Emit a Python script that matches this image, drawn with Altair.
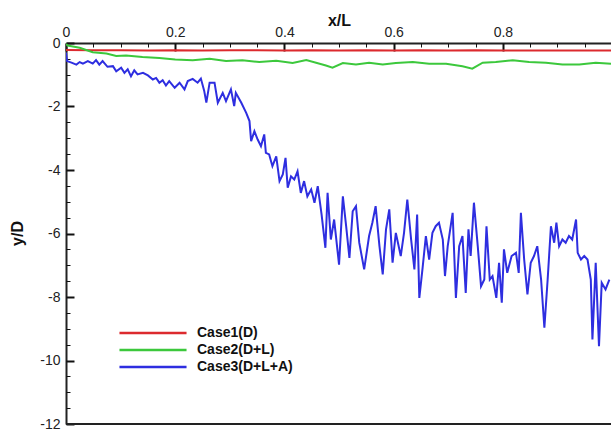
import altair as alt
import pandas as pd

# ---------------- data ----------------
names = ["Case1(D)", "Case2(D+L)", "Case3(D+L+A)"]
colors = ["#dc2a2e", "#3cc83c", "#2e2ee0"]

case1_x = [0.0, 0.05, 0.1, 0.15, 0.2, 0.25, 0.3, 0.35, 0.4, 0.45, 0.5, 0.55, 0.6,
           0.65, 0.7, 0.75, 0.8, 0.85, 0.9, 0.95, 0.998]
case1_y = [-0.22, -0.23, -0.23, -0.24, -0.23, -0.24, -0.23, -0.23, -0.24, -0.23, -0.24,
           -0.23, -0.24, -0.23, -0.24, -0.23, -0.24, -0.24, -0.24, -0.24, -0.24]

case2_x = [0.0, 0.003, 0.025, 0.049, 0.074, 0.092, 0.11, 0.14, 0.171, 0.2, 0.232, 0.263,
           0.293, 0.323, 0.354, 0.385, 0.415, 0.44, 0.476, 0.488, 0.507, 0.531, 0.555,
           0.58, 0.604, 0.635, 0.665, 0.696, 0.726, 0.744, 0.763, 0.787, 0.818, 0.848,
           0.879, 0.909, 0.94, 0.97, 0.998]
case2_y = [-0.03, -0.08, -0.15, -0.29, -0.33, -0.41, -0.39, -0.44, -0.47, -0.52, -0.54,
           -0.50, -0.57, -0.54, -0.60, -0.56, -0.63, -0.54, -0.71, -0.78, -0.63, -0.68,
           -0.62, -0.68, -0.63, -0.60, -0.65, -0.65, -0.73, -0.81, -0.62, -0.60, -0.54,
           -0.60, -0.62, -0.68, -0.68, -0.62, -0.65]

case3_x = [0.0, 0.002, 0.01, 0.019, 0.025, 0.031, 0.04, 0.049, 0.055, 0.061, 0.067, 0.076,
           0.086, 0.092, 0.101, 0.107, 0.113, 0.119, 0.125, 0.131, 0.141, 0.15, 0.159,
           0.165, 0.171, 0.177, 0.183, 0.189, 0.199, 0.208, 0.217, 0.223, 0.232, 0.241,
           0.247, 0.253, 0.257, 0.263, 0.272, 0.278, 0.287, 0.293, 0.302, 0.308, 0.311,
           0.321, 0.33, 0.336, 0.339, 0.345, 0.351, 0.357, 0.363, 0.366, 0.372, 0.378,
           0.385, 0.391, 0.397, 0.402, 0.406, 0.412, 0.418, 0.424, 0.43, 0.436, 0.442,
           0.449, 0.455, 0.461, 0.468, 0.475, 0.479, 0.485, 0.491, 0.5, 0.507, 0.513,
           0.519, 0.525, 0.531, 0.537, 0.546, 0.555, 0.561, 0.567, 0.574, 0.58, 0.586,
           0.592, 0.598, 0.604, 0.613, 0.619, 0.625, 0.632, 0.638, 0.643, 0.647, 0.653,
           0.659, 0.665, 0.671, 0.677, 0.683, 0.69, 0.694, 0.699, 0.708, 0.714, 0.72,
           0.726, 0.732, 0.737, 0.741, 0.747, 0.754, 0.76, 0.766, 0.77, 0.776, 0.781,
           0.788, 0.793, 0.798, 0.802, 0.808, 0.816, 0.824, 0.829, 0.833, 0.839, 0.845,
           0.851, 0.857, 0.863, 0.87, 0.876, 0.882, 0.888, 0.894, 0.898, 0.903, 0.909,
           0.915, 0.921, 0.927, 0.934, 0.937, 0.943, 0.949, 0.955, 0.961, 0.964, 0.97,
           0.976, 0.981, 0.988, 0.995]
case3_y = [-0.30, -0.57, -0.62, -0.68, -0.60, -0.65, -0.57, -0.65, -0.54, -0.68, -0.57, -0.75,
           -0.73, -0.89, -0.78, -0.94, -0.83, -1.05, -0.86, -0.99, -0.94, -1.02, -1.15,
           -1.10, -1.25, -1.17, -1.34, -1.20, -1.41, -1.25, -1.46, -1.20, -1.13, -1.25,
           -1.12, -1.50, -1.88, -1.25, -1.25, -1.88, -1.57, -1.83, -1.46, -1.99, -1.57,
           -1.88, -2.20, -2.46, -3.09, -2.78, -3.04, -3.25, -2.88, -3.46, -3.51, -3.88,
           -3.57, -4.35, -4.14, -3.62, -4.56, -4.20, -4.30, -4.04, -4.72, -4.35, -4.83,
           -4.61, -5.03, -4.51, -5.40, -6.45, -4.72, -6.19, -5.56, -6.98, -4.83, -5.77,
           -6.77, -5.30, -5.14, -6.29, -7.13, -6.08, -5.66, -5.14, -6.40, -7.29, -5.87,
           -5.24, -6.92, -5.98, -6.71, -5.98, -4.93, -6.19, -7.13, -5.40, -8.03, -7.08,
           -6.08, -6.82, -5.98, -5.77, -5.66, -6.19, -7.34, -6.40, -5.35, -8.03, -6.40,
           -6.08, -7.87, -5.87, -6.71, -5.03, -6.40, -7.66, -7.45, -5.77, -7.45, -7.34,
           -8.03, -6.92, -8.18, -6.50, -7.24, -6.71, -6.61, -7.24, -5.35, -6.82, -7.92,
           -6.92, -6.71, -6.40, -7.45, -8.97, -7.45, -5.77, -6.29, -5.66, -6.40, -6.19,
           -6.29, -6.08, -6.19, -5.56, -6.61, -6.82, -6.71, -6.82, -7.45, -9.34, -6.92,
           -9.55, -7.55, -7.76, -7.45]

x_major = [0, 0.2, 0.4, 0.6, 0.8]
x_minor = [0, 0.05, 0.1, 0.15, 0.2, 0.25, 0.3, 0.35, 0.4, 0.45, 0.5, 0.55, 0.6, 0.65,
           0.7, 0.75, 0.8, 0.85, 0.9, 0.95]
y_major = [0, -2, -4, -6, -8, -10, -12]
y_minor = [0, -0.5, -1, -1.5, -2, -2.5, -3, -3.5, -4, -4.5, -5, -5.5, -6, -6.5, -7, -7.5,
           -8, -8.5, -9, -9.5, -10, -10.5, -11, -11.5, -12]

rows = []
for name, xs_, ys_ in [(names[0], case1_x, case1_y), (names[1], case2_x, case2_y),
                       (names[2], case3_x, case3_y)]:
    for a, b in zip(xs_, ys_):
        rows.append({"case": name, "x": a, "y": b})
df = pd.DataFrame(rows)

# ---------------- chart ----------------
W, H = 545, 381
FONT = "Liberation Sans"
xscale = alt.Scale(domain=[0, 0.998], nice=False, zero=False)
yscale = alt.Scale(domain=[-12, 0], nice=False, zero=False)

x_tick_size = {"condition": {"test": "abs(datum.value*5 - round(datum.value*5)) < 0.001", "value": 8}, "value": 4}
x_tick_w = {"condition": {"test": "abs(datum.value*5 - round(datum.value*5)) < 0.001", "value": 2}, "value": 1}
y_tick_size = {"condition": {"test": "abs(datum.value/2 - round(datum.value/2)) < 0.001", "value": 8}, "value": 4}
y_tick_w = {"condition": {"test": "abs(datum.value/2 - round(datum.value/2)) < 0.001", "value": 2}, "value": 1}

lines = alt.Chart(df).mark_line(strokeWidth=2, clip=True).encode(
    x=alt.X("x:Q", scale=xscale, axis=alt.Axis(
        orient="top", values=x_major, title="x/L", ticks=False, tickSize=0,
        labelExpr="'' + datum.value", labelFlush=False, labelOverlap=False,
        labelFont=FONT, labelFontSize=14, labelColor="#222", labelPadding=4,
        domainColor="#222", domainWidth=2, grid=False,
        titleFont=FONT, titleFontSize=16, titleFontWeight="bold", titleColor="#111",
        titleX=273, titleY=-18, titleBaseline="alphabetic", titleAlign="center")),
    y=alt.Y("y:Q", scale=yscale, axis=alt.Axis(
        orient="left", values=y_major, title="y/D", ticks=False, tickSize=0,
        labelExpr="'' + datum.value", labelFlush=False, labelOverlap=False,
        labelFont=FONT, labelFontSize=14, labelColor="#222", labelPadding=6,
        domainColor="#222", domainWidth=2, grid=False,
        titleFont=FONT, titleFontSize=16, titleFontWeight="bold", titleColor="#111",
        titleX=-49, titleY=190, titleAngle=-90, titleBaseline="middle", titleAlign="center")),
    color=alt.Color("case:N", scale=alt.Scale(domain=names, range=colors), legend=alt.Legend(
        orient="none", legendX=79, legendY=282, title=None,
        symbolType="M-5,0H5", symbolSize=180, symbolStrokeWidth=2.5,
        labelFont=FONT, labelFontSize=14, labelFontWeight="bold", labelColor="#111",
        labelOffset=36, rowPadding=2, padding=0)),
)

ticks = alt.Chart(df).mark_line(opacity=0).encode(
    x=alt.X("x:Q", scale=xscale, axis=alt.Axis(
        orient="bottom", offset=-H, values=x_minor, labels=False, domain=False, title=None,
        grid=False, tickColor="#111", tickSize=x_tick_size, tickWidth=x_tick_w)),
    y=alt.Y("y:Q", scale=yscale, axis=alt.Axis(
        orient="right", offset=-W, values=y_minor, labels=False, domain=False, title=None,
        grid=False, tickColor="#111", tickSize=y_tick_size, tickWidth=y_tick_w)),
    detail="case:N",
)

bottom = alt.Chart(df).mark_rule(color="#222", strokeWidth=2).encode(
    x=alt.value(0), x2=alt.value(W), y=alt.value(H)
)

chart = alt.layer(lines, ticks, bottom).resolve_axis(
    x="independent", y="independent"
).properties(
    width=W, height=H,
    padding={"left": 66, "top": 43, "right": 0, "bottom": 8},
    autosize=alt.AutoSizeParams(type="none"),
).configure_view(stroke=None).configure(background="white")

chart.save("out.html", embed_options={"renderer": "svg", "actions": False})
